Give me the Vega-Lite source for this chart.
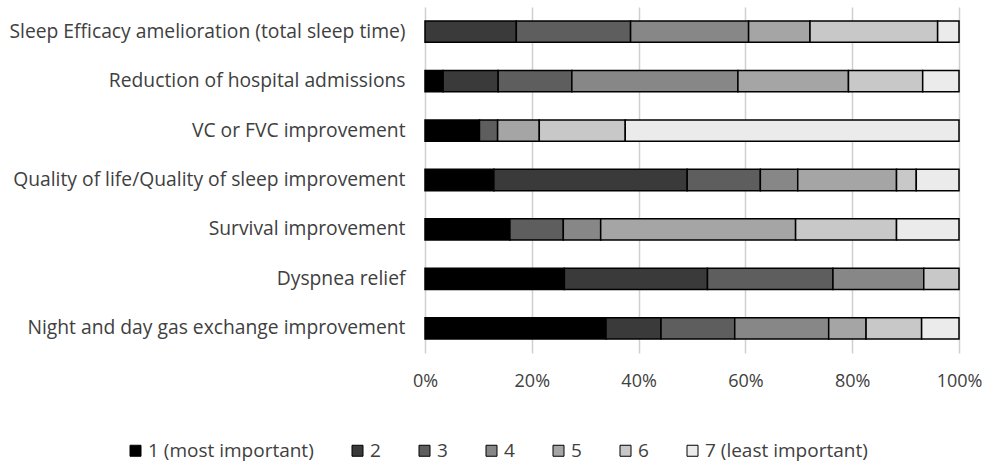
{
  "$schema": "https://vega.github.io/schema/vega-lite/v6.json",
  "width": 534,
  "height": 346,
  "autosize": {"type": "none"},
  "padding": {"left": 425, "top": 7, "right": 29, "bottom": 112},
  "background": "white",
  "config": {
    "font": "Open Sans",
    "view": {"stroke": null},
    "axis": {"labelFont": "Open Sans", "labelColor": "#404040"}
  },
  "data": {
    "values": [
      {"item": "Sleep Efficacy amelioration (total sleep time)", "rank": 2, "pct": 17.1},
      {"item": "Sleep Efficacy amelioration (total sleep time)", "rank": 3, "pct": 21.4},
      {"item": "Sleep Efficacy amelioration (total sleep time)", "rank": 4, "pct": 22.1},
      {"item": "Sleep Efficacy amelioration (total sleep time)", "rank": 5, "pct": 11.5},
      {"item": "Sleep Efficacy amelioration (total sleep time)", "rank": 6, "pct": 23.9},
      {"item": "Sleep Efficacy amelioration (total sleep time)", "rank": 7, "pct": 4.0},
      {"item": "Reduction of hospital admissions", "rank": 1, "pct": 3.4},
      {"item": "Reduction of hospital admissions", "rank": 2, "pct": 10.3},
      {"item": "Reduction of hospital admissions", "rank": 3, "pct": 13.8},
      {"item": "Reduction of hospital admissions", "rank": 4, "pct": 31.1},
      {"item": "Reduction of hospital admissions", "rank": 5, "pct": 20.7},
      {"item": "Reduction of hospital admissions", "rank": 6, "pct": 13.9},
      {"item": "Reduction of hospital admissions", "rank": 7, "pct": 6.8},
      {"item": "VC or FVC improvement", "rank": 1, "pct": 10.2},
      {"item": "VC or FVC improvement", "rank": 3, "pct": 3.4},
      {"item": "VC or FVC improvement", "rank": 5, "pct": 7.8},
      {"item": "VC or FVC improvement", "rank": 6, "pct": 16.1},
      {"item": "VC or FVC improvement", "rank": 7, "pct": 62.5},
      {"item": "Quality of life/Quality of sleep improvement", "rank": 1, "pct": 12.9},
      {"item": "Quality of life/Quality of sleep improvement", "rank": 2, "pct": 36.2},
      {"item": "Quality of life/Quality of sleep improvement", "rank": 3, "pct": 13.7},
      {"item": "Quality of life/Quality of sleep improvement", "rank": 4, "pct": 7.0},
      {"item": "Quality of life/Quality of sleep improvement", "rank": 5, "pct": 18.5},
      {"item": "Quality of life/Quality of sleep improvement", "rank": 6, "pct": 3.7},
      {"item": "Quality of life/Quality of sleep improvement", "rank": 7, "pct": 8.0},
      {"item": "Survival improvement", "rank": 1, "pct": 15.9},
      {"item": "Survival improvement", "rank": 3, "pct": 10.0},
      {"item": "Survival improvement", "rank": 4, "pct": 7.0},
      {"item": "Survival improvement", "rank": 5, "pct": 36.5},
      {"item": "Survival improvement", "rank": 6, "pct": 18.9},
      {"item": "Survival improvement", "rank": 7, "pct": 11.7},
      {"item": "Dyspnea relief", "rank": 1, "pct": 26.1},
      {"item": "Dyspnea relief", "rank": 2, "pct": 26.8},
      {"item": "Dyspnea relief", "rank": 3, "pct": 23.5},
      {"item": "Dyspnea relief", "rank": 4, "pct": 17.0},
      {"item": "Dyspnea relief", "rank": 6, "pct": 6.6},
      {"item": "Night and day gas exchange improvement", "rank": 1, "pct": 33.9},
      {"item": "Night and day gas exchange improvement", "rank": 2, "pct": 10.3},
      {"item": "Night and day gas exchange improvement", "rank": 3, "pct": 13.8},
      {"item": "Night and day gas exchange improvement", "rank": 4, "pct": 17.6},
      {"item": "Night and day gas exchange improvement", "rank": 5, "pct": 7.0},
      {"item": "Night and day gas exchange improvement", "rank": 6, "pct": 10.4},
      {"item": "Night and day gas exchange improvement", "rank": 7, "pct": 7.0}
    ]
  },
  "mark": {"type": "bar", "stroke": "#000000", "strokeWidth": 1.5},
  "encoding": {
    "y": {
      "field": "item",
      "type": "nominal",
      "sort": null,
      "scale": {"paddingInner": 0.57, "paddingOuter": 0.285},
      "axis": {
        "title": null,
        "ticks": false,
        "domain": false,
        "labelFontSize": 19.3,
        "labelPadding": 20,
        "labelLimit": 500
      }
    },
    "x": {
      "field": "pct",
      "type": "quantitative",
      "stack": "normalize",
      "scale": {"domain": [0, 1], "nice": false},
      "axis": {
        "title": null,
        "format": ".0%",
        "values": [0, 0.2, 0.4, 0.6, 0.8, 1],
        "grid": true,
        "gridColor": "#d0d0d0",
        "gridWidth": 1.5,
        "ticks": false,
        "domain": false,
        "labelFlush": false,
        "labelFontSize": 18,
        "labelPadding": 19
      }
    },
    "color": {
      "field": "rank",
      "type": "ordinal",
      "scale": {
        "domain": [1, 2, 3, 4, 5, 6, 7],
        "range": ["#000000", "#3a3a3a", "#5e5e5e", "#878787", "#a5a5a5", "#c8c8c8", "#ebebeb"]
      },
      "legend": {
        "orient": "none",
        "legendX": -299,
        "legendY": 434,
        "direction": "horizontal",
        "title": null,
        "symbolType": "square",
        "symbolSize": 121,
        "symbolStrokeColor": "#000000",
        "symbolStrokeWidth": 1,
        "labelFontSize": 19,
        "labelColor": "#404040",
        "labelFont": "Open Sans",
        "labelOffset": 3,
        "labelLimit": 300,
        "columnPadding": 34,
        "labelExpr": "datum.value == 1 ? '1 (most important)' : datum.value == 7 ? '7 (least important)' : datum.label"
      }
    },
    "order": {"field": "rank", "type": "quantitative", "sort": "ascending"}
  }
}
